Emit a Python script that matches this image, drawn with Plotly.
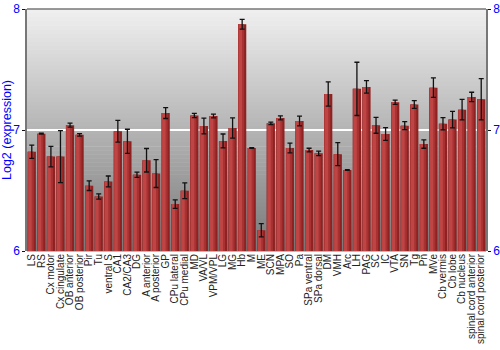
import plotly.graph_objects as go

categories = ["LS", "RS", "Cx motor", "Cx cingulate", "OB anterior", "OB posterior", "Pir", "Tu",
              "ventral S", "CA1", "CA2/CA3", "DG", "A anterior", "A posterior", "GP", "CPu lateral",
              "CPu medial", "MD", "VA/VL", "VPM/VPL", "LG", "MG", "Hb", "M", "ME", "SCN", "MPA", "SO",
              "Pa", "SPa ventral", "SPa dorsal", "DM", "VMH", "Arc", "LH", "PAG", "SC", "IC", "VTA",
              "SN", "Tg", "Pn", "MVe", "Cb vermis", "Cb lobe", "Cb nucleus", "spinal cord anterior",
              "spinal cord posterior"]

values = [6.82, 6.97, 6.78, 6.78, 7.04, 6.96, 6.54, 6.45,
          6.575, 6.99, 6.906, 6.63, 6.75, 6.64, 7.14, 6.388,
          6.498, 7.12, 7.033, 7.116, 6.91, 7.017, 7.874, 6.851, 6.172, 7.055, 7.10, 6.851,
          7.074, 6.834, 6.807, 7.298, 6.80, 6.669, 7.34, 7.356, 7.039, 6.967, 7.229,
          7.036, 7.21, 6.884, 7.35, 7.052, 7.086, 7.168, 7.273,
          7.254]

errors = [0.055, 0.003, 0.085, 0.215, 0.017, 0.01, 0.04, 0.022,
          0.045, 0.09, 0.10, 0.022, 0.097, 0.115, 0.045, 0.035,
          0.065, 0.017, 0.065, 0.015, 0.057, 0.084, 0.041, 0.003, 0.055, 0.01, 0.017, 0.04,
          0.04, 0.015, 0.018, 0.10, 0.095, 0.003, 0.22, 0.052, 0.066, 0.052, 0.018,
          0.033, 0.032, 0.035, 0.08, 0.051, 0.068, 0.085, 0.039,
          0.17]

y_range = [6, 8]
y_ticks = [6, 7, 8]

fig = go.Figure()

# base (dark right side)
fig.add_trace(go.Bar(x=categories, y=values, width=0.86, offset=-0.43,
                     marker=dict(color="#8e2222", line=dict(width=0)), hoverinfo="skip"))
# middle tone
fig.add_trace(go.Bar(x=categories, y=values, width=0.64, offset=-0.43,
                     marker=dict(color="#a83232", line=dict(width=0)), hoverinfo="skip"))
# left highlight
fig.add_trace(go.Bar(x=categories, y=values, width=0.36, offset=-0.37,
                     marker=dict(color="#bf4545", line=dict(width=0)), hoverinfo="skip"))

# error bars on right axis (so right axis is drawn)
fig.add_trace(go.Scatter(x=categories, y=values, mode="markers", yaxis="y2",
                         marker=dict(color="rgba(0,0,0,0)", size=1),
                         error_y=dict(type="data", array=errors, visible=True,
                                      color="#111111", thickness=1.3, width=2.5),
                         hoverinfo="skip"))

# background gradient strips
n = 60
top_c = 0xf0
bot_c = 0x78
shapes = []
for i in range(n):
    t = (i + 0.5) / n
    c = int(round(top_c + (bot_c - top_c) * t))
    shapes.append(dict(type="rect", xref="paper", yref="paper", x0=0, x1=1,
                       y0=1 - (i + 1) / n - 0.002, y1=1 - i / n,
                       fillcolor=f"rgb({c},{c},{c})", line=dict(width=0), layer="below"))
shapes.append(dict(type="line", xref="paper", yref="paper", x0=0, x1=1, y0=1, y1=1,
                   line=dict(color="#777777", width=1.5)))

fig.update_layout(
    width=500, height=350,
    margin=dict(l=27, r=14, t=9, b=99),
    paper_bgcolor="white",
    plot_bgcolor="rgba(0,0,0,0)",
    barmode="overlay",
    showlegend=False,
    shapes=shapes,
    font=dict(family="Liberation Sans, Arial, sans-serif", color="#222222"),
    xaxis=dict(type="category", range=[-0.5, len(categories) - 0.5], tickangle=-90,
               tickmode="array", tickvals=categories, ticktext=categories,
               tickfont=dict(size=10, color="#222222"), showgrid=False, ticks="",
               showline=False, zeroline=False, automargin=False),
    yaxis=dict(range=y_range, tickvals=y_ticks, tickfont=dict(size=12, color="#0000ff"),
               showgrid=True, gridcolor="white", gridwidth=1.5, zeroline=False,
               showline=True, linecolor="#777777", linewidth=1.5,
               ticks="outside", ticklen=3, tickcolor="#111111",
               title=dict(text="Log2 (expression)", font=dict(size=12.5, color="#0000ff"), standoff=4),
               automargin=False),
    yaxis2=dict(range=y_range, tickvals=y_ticks, overlaying="y", side="right",
                tickfont=dict(size=12, color="#0000ff"), showgrid=False, zeroline=False,
                showline=True, linecolor="#777777", linewidth=1.5,
                ticks="outside", ticklen=3, tickcolor="#111111", automargin=False),
)

fig.write_html("out.html")
